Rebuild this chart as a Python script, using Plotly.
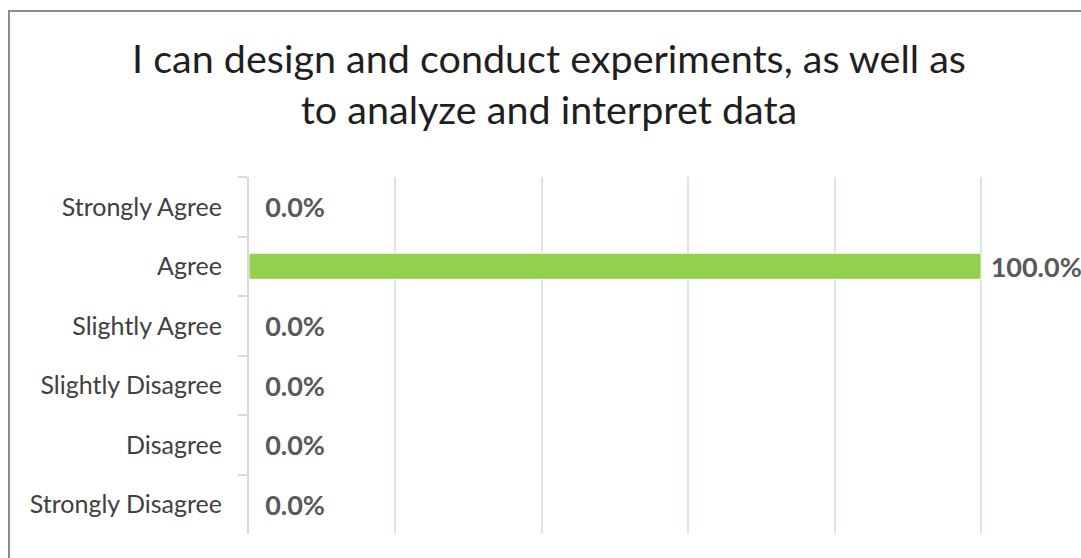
import plotly.graph_objects as go

categories = ["Strongly Agree", "Agree", "Slightly Agree", "Slightly Disagree", "Disagree", "Strongly Disagree"]
values = [0.0, 100.0, 0.0, 0.0, 0.0, 0.0]
title_text = "I can design and conduct experiments, as well as<br>to analyze and interpret data"

W, H = 1081, 558
L, R, T, B = 249, 97, 177, 24
pw, ph = W - L - R, H - T - B

labels = [("\u00a0\u00a0" if v == 0 else "\u00a0") + f"{v:.1f}%" for v in values]

fig = go.Figure()
fig.add_trace(go.Bar(
    y=categories, x=values, orientation="h",
    marker=dict(color="#92d050", line=dict(color="white", width=1)),
    width=0.44,
    text=labels,
    textposition="outside",
    constraintext="none",
    textfont=dict(family="Lato", size=27, color="#595959", weight="bold"),
    cliponaxis=False,
    hoverinfo="skip",
))

fig.update_layout(
    width=W, height=H,
    margin=dict(l=L, r=R, t=T, b=B, pad=0, autoexpand=False),
    paper_bgcolor="white", plot_bgcolor="white",
    showlegend=False,
    title=dict(text=title_text, x=549 / W, xref="container", xanchor="center",
               y=1 - 73 / H, yanchor="top", yref="container",
               font=dict(family="Lato", size=39.5, color="#1f1f1f")),
    xaxis=dict(range=[0, 100.4], tick0=0, dtick=20, showticklabels=False, showgrid=True,
               gridcolor="#dae3f3", gridwidth=2, zeroline=False, showline=False,
               fixedrange=True),
    yaxis=dict(autorange="reversed", showline=True, linecolor="#d9d9d9", linewidth=2,
               ticks="outside", tickson="boundaries", ticklen=9, tickcolor="#d9d9d9",
               tickwidth=2, ticklabelstandoff=20, automargin=False,
               tickfont=dict(family="Lato", size=25, color="#404040"),
               showgrid=False, fixedrange=True),
    bargap=0.56,
)

fig.add_shape(type="rect", xref="paper", yref="paper",
              x0=(9 - L) / pw, x1=(W + 20 - L) / pw,
              y0=-(B + 20) / ph, y1=1 + (T - 11) / ph,
              line=dict(color="#8c8c8c", width=2), fillcolor="rgba(0,0,0,0)", layer="above")

fig.write_html("out.html", config={"displayModeBar": False},
               post_script="document.body.style.margin='0px';document.body.style.overflow='hidden';")
